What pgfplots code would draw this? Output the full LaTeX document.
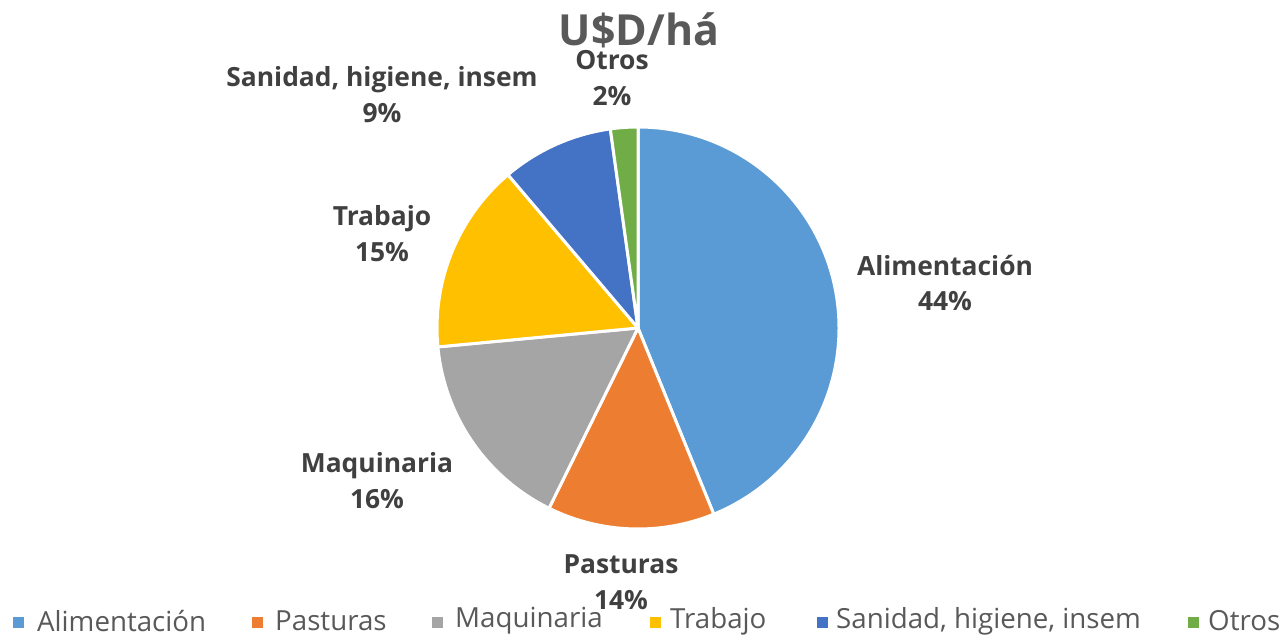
\documentclass[border=0pt]{standalone}
\usepackage{pgfplots}
\pgfplotsset{compat=1.18}
\usepackage{fontspec}
\setmainfont{Open Sans}
\definecolor{cA}{HTML}{5B9BD5}
\definecolor{cB}{HTML}{ED7D31}
\definecolor{cC}{HTML}{A5A5A5}
\definecolor{cD}{HTML}{FFC000}
\definecolor{cE}{HTML}{4472C4}
\definecolor{cF}{HTML}{70AD47}
\definecolor{lblc}{HTML}{404040}
\definecolor{ttl}{HTML}{595959}
\begin{document}
\begin{tikzpicture}[
  lbl/.style={text=lblc, font=\fontsize{26.5}{36}\selectfont\bfseries, align=center, inner sep=0pt},
  leg/.style={text=ttl, font=\fontsize{27.8}{30}\selectfont, anchor=west, inner sep=0pt},
  sq/.style={minimum size=11bp, inner sep=0pt},
]
\begin{axis}[
  width=1284bp, height=637bp, scale only axis,
  xmin=0, xmax=1284, ymin=0, ymax=637, y dir=reverse,
  hide axis, clip=false,
]
\path (axis cs:0,0) rectangle (axis cs:1284,637);
\foreach \v/\c [remember=\e as \s (initially 90), evaluate=\v as \e using \s-3.6*\v] in {43.85/cA,13.45/cB,16.2/cC,15.3/cD,9.0/cE,2.2/cF}{
  \edef\temp{\noexpand\filldraw[fill=\c, draw=white, line width=3bp, line join=round] (axis cs:638,328) -- ++(\s:201bp) arc[start angle=\s, end angle=\e, radius=201bp] -- cycle;}
  \temp
}
\node[text=ttl, font=\fontsize{43}{46}\selectfont\bfseries, inner sep=0pt] at (axis cs:639,30) {U\$D/há};
\node[lbl] at (axis cs:945,283) {Alimentación\\44\%};
\node[lbl] at (axis cs:621,582) {Pasturas\\14\%};
\node[lbl] at (axis cs:377,481) {Maquinaria\\16\%};
\node[lbl] at (axis cs:382,234) {Trabajo\\15\%};
\node[lbl] at (axis cs:382,95) {Sanidad, higiene, insem\\9\%};
\node[lbl] at (axis cs:612,78) {Otros\\2\%};
\node[sq, fill=cA] at (axis cs:18,622) {};
\node[leg] at (axis cs:37,621) {Alimentación};
\node[sq, fill=cB] at (axis cs:257,622) {};
\node[leg] at (axis cs:275,621) {Pasturas};
\node[sq, fill=cC] at (axis cs:437,622) {};
\node[leg] at (axis cs:455,621) {Maquinaria};
\node[sq, fill=cD] at (axis cs:655,622) {};
\node[leg] at (axis cs:670,621) {Trabajo};
\node[sq, fill=cE] at (axis cs:822,622) {};
\node[leg] at (axis cs:836,621) {Sanidad, higiene, insem};
\node[sq, fill=cF] at (axis cs:1193,622) {};
\node[leg] at (axis cs:1208,621) {Otros};
\end{axis}
\end{tikzpicture}
\end{document}
